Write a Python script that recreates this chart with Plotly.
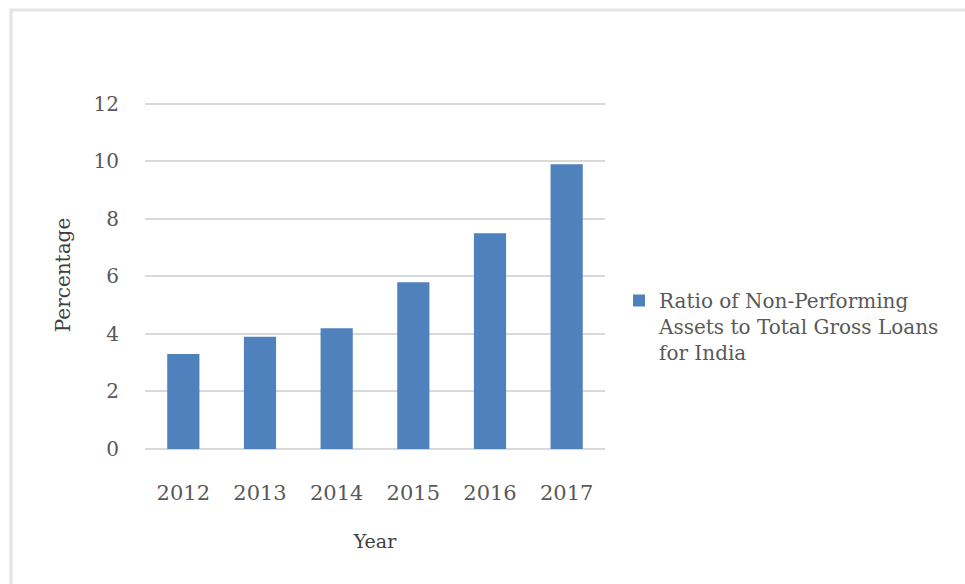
import plotly.graph_objects as go

# Ratio of non-performing assets to total gross loans, India
years = ["2012", "2013", "2014", "2015", "2016", "2017"]
npa_ratio = [3.3, 3.9, 4.2, 5.8, 7.5, 9.9]
y_ticks = [0, 2, 4, 6, 8, 10, 12]
series_name = "Ratio of Non-Performing<br>Assets to Total Gross Loans<br>for India"

W, H = 965, 584
L, R, T, B = 145, 360, 101, 135
pw, ph = W - L - R, H - T - B

def px_x(x):
    return (x - L) / pw

def px_y(y):
    return (H - B - y) / ph

font = "DejaVu Serif, Liberation Serif, serif"
grey = "#595959"

fig = go.Figure()
fig.add_trace(go.Bar(
    x=years, y=npa_ratio, name=series_name,
    marker=dict(color="#4f81bd", line=dict(width=0)),
    showlegend=True,
))

fig.update_layout(
    width=W, height=H,
    margin=dict(l=L, r=R, t=T, b=B),
    paper_bgcolor="white", plot_bgcolor="white",
    bargap=0.58,
    font=dict(family=font, size=20, color=grey),
    xaxis=dict(
        title=dict(text="Year", font=dict(size=19, color="#404040"), standoff=30),
        showgrid=False, showline=False,
        ticks="outside", ticklen=25, tickcolor="rgba(0,0,0,0)",
        tickfont=dict(size=21, color=grey),
    ),
    yaxis=dict(
        title=dict(text="Percentage", font=dict(size=20, color="#404040"), standoff=17),
        range=[0, 12.1], tickvals=y_ticks,
        showgrid=True, gridcolor="#d9d9d9", gridwidth=1.5,
        zeroline=True, zerolinecolor="#d9d9d9", zerolinewidth=1.5,
        showline=False,
        ticks="outside", ticklen=21, tickcolor="rgba(0,0,0,0)",
        tickfont=dict(size=20, color=grey),
    ),
    legend=dict(
        x=px_x(619), y=px_y(281), xanchor="left", yanchor="top",
        font=dict(size=20, color=grey),
        valign="top", tracegroupgap=0,
        bgcolor="rgba(0,0,0,0)",
    ),
    shapes=[dict(
        type="rect", xref="paper", yref="paper",
        x0=px_x(11), x1=px_x(W + 20), y0=px_y(H + 20), y1=px_y(10),
        line=dict(color="#e4e4e4", width=3), fillcolor="rgba(0,0,0,0)",
        layer="below",
    )],
)

fig.write_html("out.html")
